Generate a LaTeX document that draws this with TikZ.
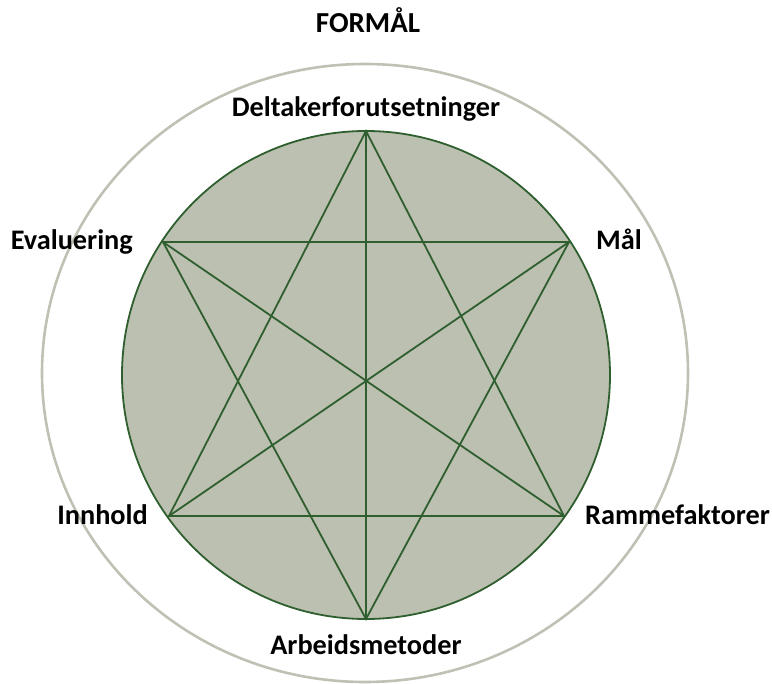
\documentclass[tikz,border=0pt]{standalone}
\usepackage{fontspec}
\setmainfont{Carlito}
\definecolor{fillgray}{HTML}{BCC0B0}
\definecolor{darkgreen}{HTML}{2F5F2F}
\definecolor{outergray}{HTML}{C0C0B4}
\begin{document}
\begin{tikzpicture}[x=1pt,y=-1pt,
  lbl/.style={font=\bfseries\fontsize{28.3}{32}\selectfont, inner sep=0pt},
  starline/.style={darkgreen, line width=1.8pt, line join=miter}]
\useasboundingbox (0,0) rectangle (772,684);
% outer ring
\draw[outergray, line width=2.6pt] (365,373) ellipse [x radius=323, y radius=309];
% inner disc
\filldraw[fill=fillgray, draw=darkgreen, line width=1.8pt] (366,375) circle [radius=244];
% star vertices
\coordinate (T) at (366,131);
\coordinate (B) at (366,619);
\coordinate (E) at (163,242);
\coordinate (M) at (569,242);
\coordinate (I) at (169,516);
\coordinate (R) at (564,516);
% star lines
\draw[starline] (T) -- (R) -- (I) -- cycle;
\draw[starline] (B) -- (E) -- (M) -- cycle;
\draw[starline] (T) -- (B);
\draw[starline] (E) -- (R);
\draw[starline] (M) -- (I);
% labels
\node[lbl, font=\bfseries\fontsize{29}{32}\selectfont, anchor=base] (formal) at (368,33) {FORMÅL};
\node[lbl, anchor=base] (delt) at (366,117) {Deltakerforutsetninger};
\node[lbl, anchor=base east] (eval) at (133,250) {Evaluering};
\node[lbl, anchor=base east] (innh) at (148,525) {Innhold};
\node[lbl, anchor=base west] (mal) at (596,250) {Mål};
\node[lbl, anchor=base west] (ramme) at (585,525) {Rammefaktorer};
\node[lbl, anchor=base] (arb) at (366,655) {Arbeidsmetoder};
\end{tikzpicture}
\end{document}
